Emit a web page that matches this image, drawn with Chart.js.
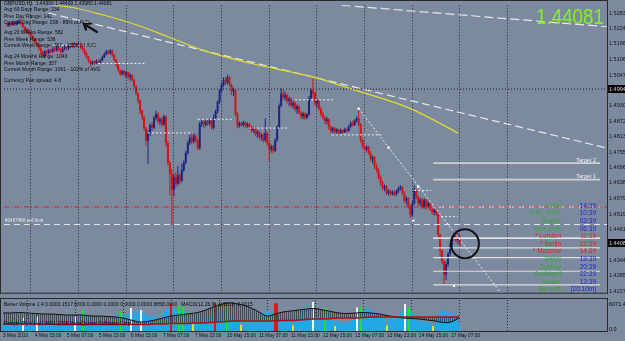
<!DOCTYPE html>
<html><head><meta charset="utf-8">
<script src="https://cdn.jsdelivr.net/npm/chart.js@4.4.0/dist/chart.umd.min.js"></script>
<style>
html,body{margin:0;padding:0;background:#7c8a9f;overflow:hidden}
#wrap{position:relative;width:625px;height:341px;background:#7c8a9f}
canvas{position:absolute;left:0}
</style></head><body>
<div id="wrap">
<canvas id="main" width="625" height="298" style="top:0"></canvas>
<canvas id="ind" width="625" height="43" style="top:298px"></canvas>
</div>
<script>
// ---------------- DATA ----------------
const symbol = 'GBPUSD,H1';
const firstOpen = 1.5242;
const closes = [
1.5236,1.5244,1.5238,1.5246,1.5240,1.5248,1.5252,1.5243,1.5230,1.5214,
1.5220,1.5205,1.5196,1.5184,1.5170,1.5162,1.5149,1.5136,1.5122,1.5138,
1.5131,1.5142,1.5136,1.5148,1.5141,1.5153,1.5145,1.5136,1.5147,1.5155,
1.5149,1.5157,1.5163,1.5156,1.5166,1.5159,1.5167,1.5161,1.5146,1.5131,
1.5118,1.5102,1.5090,1.5098,1.5093,1.5101,1.5096,1.5104,1.5115,1.5127,
1.5138,1.5131,1.5141,1.5124,1.5106,1.5086,1.5066,1.5052,1.5063,1.5049,
1.5058,1.5041,1.5048,1.5030,1.5005,1.4978,1.4950,1.4912,1.4888,1.4846,
1.4798,1.4826,1.4858,1.4848,1.4885,1.4899,1.4872,1.4880,1.4860,1.4890,
1.4790,1.4715,1.4672,1.4612,1.4660,1.4635,1.4668,1.4645,1.4688,1.4716,
1.4752,1.4790,1.4810,1.4795,1.4818,1.4800,1.4770,1.4862,1.4870,1.4858,
1.4872,1.4864,1.4875,1.4848,1.4885,1.4910,1.4945,1.4988,1.5010,1.5030,
1.5018,1.5040,1.5010,1.4985,1.4990,1.4900,1.4855,1.4866,1.4858,1.4868,
1.4854,1.4862,1.4850,1.4838,1.4846,1.4825,1.4832,1.4812,1.4820,1.4800,
1.4828,1.4790,1.4765,1.4776,1.4760,1.4800,1.4850,1.4930,1.4978,1.4962,
1.4972,1.4950,1.4958,1.4932,1.4942,1.4918,1.4928,1.4905,1.4890,1.4902,
1.4886,1.4898,1.4960,1.4990,1.4980,1.4940,1.4950,1.4920,1.4900,1.4886,
1.4872,1.4880,1.4850,1.4836,1.4846,1.4832,1.4840,1.4828,1.4838,1.4830,
1.4842,1.4836,1.4852,1.4866,1.4858,1.4874,1.4884,1.4860,1.4800,1.4775,
1.4766,1.4774,1.4752,1.4728,1.4736,1.4700,1.4688,1.4660,1.4640,1.4618,
1.4626,1.4600,1.4608,1.4596,1.4604,1.4594,1.4606,1.4616,1.4622,1.4600,
1.4570,1.4580,1.4550,1.4515,1.4560,1.4610,1.4585,1.4560,1.4575,1.4545,
1.4572,1.4550,1.4560,1.4538,1.4528,1.4534,1.4520,1.4440,1.4380,1.4340,
1.4290,1.4330,1.4368,1.4400,1.4425,1.4438,1.4420,1.4430,1.44081];
const highs = [
1.5248,1.5250,1.5249,1.5254,1.5252,1.5256,1.5260,1.5262,1.5247,1.5233,
1.5226,1.5224,1.5210,1.5201,1.5189,1.5176,1.5166,1.5153,1.5140,1.5142,
1.5145,1.5148,1.5147,1.5155,1.5158,1.5160,1.5158,1.5150,1.5154,1.5161,
1.5159,1.5164,1.5168,1.5170,1.5172,1.5171,1.5174,1.5172,1.5165,1.5150,
1.5136,1.5121,1.5107,1.5103,1.5104,1.5108,1.5106,1.5110,1.5121,1.5133,
1.5145,1.5144,1.5147,1.5145,1.5128,1.5110,1.5090,1.5070,1.5068,1.5066,
1.5063,1.5061,1.5055,1.5052,1.5034,1.5009,1.4982,1.4955,1.4916,1.4893,
1.4851,1.4838,1.4866,1.4870,1.4893,1.4913,1.4905,1.4888,1.4889,1.4897,
1.4893,1.4798,1.4722,1.4690,1.4672,1.4680,1.4702,1.4676,1.4712,1.4724,
1.4760,1.4799,1.4820,1.4826,1.4828,1.4823,1.4806,1.4870,1.4878,1.4876,
1.4880,1.4878,1.4882,1.4880,1.4898,1.4916,1.4952,1.4995,1.5020,1.5038,
1.5040,1.5050,1.5046,1.5016,1.5000,1.4995,1.4906,1.4872,1.4870,1.4874,
1.4872,1.4868,1.4866,1.4856,1.4852,1.4850,1.4840,1.4836,1.4828,1.4826,
1.4883,1.4834,1.4796,1.4784,1.4782,1.4808,1.4858,1.4940,1.4998,1.4990,
1.4985,1.4978,1.4966,1.4962,1.4950,1.4948,1.4936,1.4932,1.4910,1.4908,
1.4906,1.4904,1.4968,1.4998,1.5035,1.4986,1.4958,1.4954,1.4926,1.4908,
1.4892,1.4890,1.4884,1.4856,1.4852,1.4850,1.4846,1.4844,1.4845,1.4842,
1.4848,1.4846,1.4858,1.4872,1.4875,1.4880,1.4892,1.4920,1.4866,1.4806,
1.4782,1.4780,1.4778,1.4758,1.4742,1.4740,1.4712,1.4694,1.4668,1.4646,
1.4632,1.4630,1.4614,1.4612,1.4610,1.4608,1.4612,1.4624,1.4630,1.4626,
1.4606,1.4588,1.4584,1.4556,1.4568,1.4628,1.4614,1.4590,1.4582,1.4580,
1.4580,1.4578,1.4570,1.4564,1.4544,1.4540,1.4538,1.4526,1.4446,1.4386,
1.4346,1.4340,1.4376,1.4410,1.4434,1.4452,1.4458,1.4446,1.4440];
const lows = [
1.5230,1.5231,1.5232,1.5235,1.5234,1.5237,1.5243,1.5238,1.5225,1.5208,
1.5206,1.5199,1.5188,1.5178,1.5163,1.5155,1.5142,1.5128,1.5115,1.5117,
1.5124,1.5126,1.5129,1.5132,1.5134,1.5137,1.5138,1.5130,1.5131,1.5142,
1.5140,1.5143,1.5150,1.5150,1.5151,1.5153,1.5152,1.5148,1.5140,1.5124,
1.5110,1.5095,1.5081,1.5086,1.5087,1.5089,1.5090,1.5092,1.5100,1.5112,
1.5123,1.5125,1.5126,1.5118,1.5099,1.5078,1.5058,1.5045,1.5047,1.5041,
1.5035,1.5032,1.5026,1.5022,1.4998,1.4970,1.4940,1.4900,1.4875,1.4835,
1.4780,1.4710,1.4815,1.4835,1.4842,1.4876,1.4864,1.4858,1.4850,1.4855,
1.4776,1.4700,1.4592,1.4480,1.4588,1.4620,1.4628,1.4632,1.4640,1.4680,
1.4708,1.4745,1.4782,1.4787,1.4788,1.4790,1.4762,1.4765,1.4850,1.4848,
1.4851,1.4855,1.4856,1.4840,1.4842,1.4878,1.4902,1.4938,1.4980,1.5002,
1.5010,1.5012,1.5002,1.4972,1.4968,1.4890,1.4845,1.4848,1.4850,1.4852,
1.4846,1.4848,1.4842,1.4830,1.4828,1.4816,1.4810,1.4804,1.4798,1.4792,
1.4795,1.4780,1.4721,1.4754,1.4750,1.4756,1.4795,1.4845,1.4925,1.4955,
1.4950,1.4940,1.4930,1.4924,1.4920,1.4910,1.4900,1.4896,1.4882,1.4880,
1.4878,1.4880,1.4892,1.4950,1.4962,1.4930,1.4925,1.4912,1.4890,1.4878,
1.4862,1.4860,1.4840,1.4828,1.4826,1.4824,1.4822,1.4820,1.4824,1.4826,
1.4828,1.4830,1.4832,1.4848,1.4852,1.4855,1.4868,1.4852,1.4790,1.4766,
1.4758,1.4756,1.4745,1.4720,1.4712,1.4692,1.4678,1.4652,1.4628,1.4610,
1.4606,1.4592,1.4590,1.4588,1.4590,1.4587,1.4590,1.4600,1.4610,1.4592,
1.4562,1.4556,1.4540,1.4506,1.4510,1.4555,1.4576,1.4552,1.4548,1.4538,
1.4540,1.4535,1.4542,1.4530,1.4518,1.4515,1.4512,1.4430,1.4360,1.4330,
1.4254,1.4268,1.4320,1.4360,1.4394,1.4418,1.4412,1.4404,1.4398];
const volumes = [
1500,1300,1800,1600,1200,1900,1700,1400,2000,1800,
2600,2200,2000,2400,1900,2300,2100,2800,2400,2000,
2200,1800,2000,1600,1400,1700,1300,1500,1200,1600,
1800,1400,2000,2300,2600,2900,2900,3100,2800,3300,
4100,3500,3000,2700,2200,1900,2100,1600,1800,1400,
2000,1700,2300,2100,1900,2400,2600,2900,3200,3800,
3100,3400,2800,3500,4500,3600,3900,3300,4000,4100,
3700,3400,3000,2800,3200,2600,3000,2400,2900,2700,
3300,3900,4200,4600,5300,4400,4700,4000,5100,4300,
4700,3800,3100,2600,2900,1300,2200,2700,2000,2400,
1900,2300,2600,3000,3400,3800,5500,4200,4600,4100,
3900,4300,5100,3800,3200,2800,2400,2000,2300,1200,
1800,2100,1700,2000,2300,1900,2200,2600,3000,3400,
3800,3500,4100,3700,3300,3900,5500,5400,3100,2600,
2300,2700,2100,2500,2000,1100,2400,2800,3300,3700,
4000,4400,3800,4200,4600,5700,3000,2400,2100,2600,
3200,4700,3600,3900,3100,2700,1000,2200,1800,1500,
1700,1400,1900,1600,2000,2300,2600,4600,3700,4700,
3900,4200,4500,4300,4000,3700,3400,3000,3300,2700,
2900,2500,1100,2800,2300,2600,2100,2900,3200,3600,
4100,5300,4300,4700,3900,3400,2800,2300,1800,2000,
1600,1900,1400,1700,1300,1000,1500,2400,3300,3800,
4200,3600,3900,3300,3700,3100,3500,2900,1517];
const whiteVol = [10,17,36,64,69,155,177,201];
const greenVol = [40,59,88,90,112,161,179,203];
const redVol = [84,106,136,137];
const yellowVol = [95,119,145,166,192,215];
const macdStep = 4;
const macdMain = [
-0.00019,-0.00019,-0.00003,-0.00019,-0.00035,-0.00052,-0.00052,-0.00068,-0.00084,-0.00084,
-0.00084,-0.00116,-0.00116,-0.00132,-0.00148,-0.00181,-0.00245,-0.00310,-0.00294,-0.00245,
-0.00181,-0.00116,-0.00084,-0.00052,-0.00019,0.00045,0.00142,0.00239,0.00303,0.00287,
0.00239,0.00142,0.00013,-0.00116,-0.00052,0.00013,0.00045,0.00077,0.00110,0.00126,
0.00077,0.00029,-0.00019,-0.00035,-0.00019,-0.00003,-0.00019,-0.00052,-0.00100,-0.00148,
-0.00181,-0.00197,-0.00213,-0.00245,-0.00277,-0.00326,-0.00310,-0.00181];
const macdSignal = [
-0.00374,-0.00374,-0.00374,-0.00374,-0.00374,-0.00374,-0.00374,-0.00390,-0.00390,-0.00390,
-0.00390,-0.00390,-0.00390,-0.00390,-0.00390,-0.00390,-0.00390,-0.00390,-0.00390,-0.00374,
-0.00374,-0.00358,-0.00358,-0.00358,-0.00342,-0.00342,-0.00326,-0.00310,-0.00294,-0.00277,
-0.00277,-0.00277,-0.00277,-0.00277,-0.00277,-0.00261,-0.00261,-0.00245,-0.00229,-0.00213,
-0.00213,-0.00197,-0.00181,-0.00181,-0.00181,-0.00165,-0.00148,-0.00148,-0.00148,-0.00148,
-0.00148,-0.00148,-0.00148,-0.00148,-0.00148,-0.00148,-0.00148,-0.00148];
const volMax = 6071.4;
const priceTicks = [1.52830,1.52240,1.51660,1.51060,1.50475,1.49890,1.49305,1.48720,1.48135,1.47550,
1.46965,1.46380,1.45795,1.45195,1.44610,1.44025,1.43440,1.42855,1.42270];
const timeLabels = ['3 May 2010','4 May 15:00','5 May 07:00','5 May 23:00','6 May 15:00','7 May 07:00',
'7 May 23:00','10 May 15:00','11 May 07:00','11 May 23:00','12 May 15:00','13 May 07:00','13 May 23:00',
'14 May 15:00','17 May 07:00'];
const timeLabelIdx = [0,16,32,48,64,80,96,112,128,144,160,176,192,208,224];
const gridIdx = [24,48,72,96,120,144,168,192,216,240];

// drawn objects (bar index, price)
const trendLong = [[21,1.5283],[301,1.4772]];
const trendTop = [[168.5,1.53126],[302,1.52312]];
const maLine = [[12.5,1.5320],[32,1.53052],[48.5,1.52756],[65,1.52386],[82,1.51905],[98.5,1.51424],
[123.5,1.50906],[155,1.50388],[173.5,1.49944],[202,1.49241],[227,1.48279]];
const slopeLine = [[177,1.49204],[248.5,1.42211]];
const anchorDots = [[177,1.49204],[192,1.47724],[207,1.46244],[204.5,1.44949],[225,1.42470]];
const dayLevels = [[23.5,45,1.51609],[46,70,1.50917],[71,93.5,1.48279],[96,113.5,1.48797],[122,141,1.48464],
[145,165,1.49537],[163.5,188.5,1.48205],[205,213.5,1.46096],[218.5,227,1.45097]];
const hLine = 1.49944, redLevel = 1.45467, sellLimit = 1.44801;
const targets = [['Target 2',1.47132],['Target 1',1.46503]];
const panelLevels = [1.45467,1.44283,1.43913,1.43543,1.43025,1.42507];
const panelX = [214.5,298.5], fullX = [-1.5,302];
const infoLines = ['Avg 60 Days Range: 234','Prev Day Range: 142','Current Day Range: 208 - 89% of AVG',
'Avg 20 Weeks Range: 582','Prev Week Range: 536','Current Week Range: 787 - 135% of AVG',
'Avg 24 Months Range: 1043','Prev Month Range: 357','Current Month Range: 1061 - 102% of AVG',
'Currency Pair spread: 4.8'];
const sessionNames = ['Local','UTC_GMT','Seattle','New York','* London','* Berlin','* Moscow','Tokyo','Sydney','Auckland','Broker','Bar Left'];
const sessionTimes = ['14:39','10:39','03:39','06:39','11:39','12:39','14:39','19:39','20:39','22:39','13:39','[20:10m]'];
const sessionOpen = [0,0,0,0,1,1,1,0,0,0,0,0];

// ---------------- STYLE ----------------
const FONT = 'Liberation Sans';
const BULL = '#1c2680', BEAR = '#cf1515', GRID = '#262626';
const n = closes.length;
const opens = closes.map((c,i)=> i===0 ? firstOpen : closes[i-1]);
const cCol = closes.map((c,i)=> c>=opens[i] ? BULL : BEAR);
const pts = a => a.map(p=>({x:p[0],y:p[1]}));
function seg(points,color,width,dash,extra){
  return Object.assign({type:'line',data:pts(points),borderColor:color,borderWidth:width,borderDash:dash||[],
    pointRadius:0,fill:false,tension:0,order:2},extra||{});
}
const ds = [];
ds.push({type:'bar',data:closes.map((c,i)=>({x:i,y:[lows[i],highs[i]]})),backgroundColor:cCol,barThickness:1,
  grouped:false,inflateAmount:0,order:20});
ds.push({type:'bar',data:closes.map((c,i)=>({x:i,y:[opens[i],c]})),backgroundColor:cCol,barThickness:2,
  minBarLength:1,grouped:false,inflateAmount:0,order:19});
ds.push(seg([[fullX[0],hLine],[fullX[1],hLine]],'#1c1c1c',1,[1,2]));
ds.push(seg([[fullX[0],redLevel],[fullX[1],redLevel]],'#d42222',1,[5,2,1,2]));
ds.push(seg([[fullX[0],sellLimit],[fullX[1],sellLimit]],'#e4e4e4',1.2,[6,4]));
ds.push(seg([[fullX[0],sellLimit],[fullX[1],sellLimit]],'#3fb03f',1.2,[3,7],{borderDashOffset:7}));
ds.push(seg(maLine,'#e2dc2a',1.2,[],{tension:0.4,cubicInterpolationMode:'monotone'}));
ds.push(seg(trendLong,'#e8e8e8',1.2,[8,4]));
ds.push(seg(trendTop,'#e8e8e8',1.2,[9,4]));
ds.push(seg(slopeLine,'#eeeeee',1,[2,2]));
dayLevels.forEach(l=>ds.push(seg([[l[0],l[2]],[l[1],l[2]]],'#f0f0f0',1,[2,2])));
targets.forEach(t=>ds.push(seg([[panelX[0],t[1]],[panelX[1],t[1]]],'#cfcfcf',1.8,[])));
panelLevels.forEach((p,k)=>ds.push(seg([[panelX[0],p],[panelX[1],p]],'#dedede',k===1?1.8:1.1,[])));
ds.push({type:'line',data:pts(anchorDots),showLine:false,pointRadius:1.6,pointStyle:'rect',
  pointBackgroundColor:'#ffffff',pointBorderWidth:0,order:1});

const overlay1 = {
  id:'overlay1',
  afterDatasetsDraw(chart){
    const {ctx, chartArea:a, scales:{x,y}} = chart;
    ctx.save();
    ctx.strokeStyle='#2a2a2a'; ctx.lineWidth=1;
    ctx.strokeRect(0.5,0.5,a.right,a.bottom);
    ctx.fillStyle='#0a0a0a'; ctx.textBaseline='middle'; ctx.textAlign='left';
    ctx.font='5px "'+FONT+'"';
    const L=n-1;
    ctx.fillText(symbol+'  '+opens[L].toFixed(5)+' '+highs[L].toFixed(5)+' '+lows[L].toFixed(5)+' '+closes[L].toFixed(5),4,3.5);
    const iy=[10,16.5,23,33,39.5,46,57,63.5,70,81];
    infoLines.forEach((t,k)=>ctx.fillText(t,4,iy[k]));
    ctx.strokeStyle='#111'; ctx.lineWidth=2.2; ctx.lineCap='round';
    ctx.beginPath(); ctx.moveTo(97,32); ctx.lineTo(84,24); ctx.moveTo(84,24); ctx.lineTo(91,23.5);
    ctx.moveTo(84,24); ctx.lineTo(86,29.5); ctx.stroke();
    ctx.lineWidth=2;
    ctx.beginPath(); ctx.ellipse(x.getPixelForValue(230.5),y.getPixelForValue(1.4407),14,14.5,0,0,Math.PI*2); ctx.stroke();
    ctx.font='4.6px "'+FONT+'"'; ctx.fillStyle='#e8e8e8';
    ctx.fillText('#2467466 sell limit',5,y.getPixelForValue(sellLimit)-3.5);
    ctx.font='5.5px "'+FONT+'"'; ctx.textAlign='right'; ctx.fillStyle='#f2f2f2';
    targets.forEach(t=>ctx.fillText(t[0],596,y.getPixelForValue(t[1])-3));
    ctx.font='6.5px "'+FONT+'"';
    sessionNames.forEach((s,k)=>{
      const yy=206+k*7.6;
      ctx.fillStyle=sessionOpen[k]?'#e62020':'#36a636'; ctx.fillText(s,561,yy);
      ctx.fillStyle=sessionOpen[k]?'#e62020':'#2222d6'; ctx.fillText(sessionTimes[k],596,yy);
    });
    ctx.textAlign='left'; ctx.font='5.5px "'+FONT+'"';
    [hLine, closes[L]].forEach(p=>{
      const py=Math.round(y.getPixelForValue(p));
      ctx.fillStyle='#050505'; ctx.fillRect(a.right+1,py-4,625-a.right,8);
      ctx.fillStyle='#cfcfcf'; ctx.fillText(p.toFixed(5),a.right+2,py);
    });
    ctx.font='22px "'+FONT+'"'; ctx.textAlign='right'; ctx.textBaseline='alphabetic';
    ctx.fillStyle='#84f21c'; ctx.fillText(closes[L].toFixed(5),604,24,68);
    ctx.restore();
  }
};

new Chart(document.getElementById('main'),{
  type:'bar', data:{datasets:ds},
  options:{responsive:false,animation:false,devicePixelRatio:1,events:[],
    layout:{padding:{top:2,bottom:1,left:0,right:0}},
    plugins:{legend:{display:false},tooltip:{enabled:false}},
    scales:{
      x:{type:'linear',min:fullX[0],max:fullX[1],offset:false,
        grid:{display:true,color:GRID,lineWidth:1,drawTicks:false},border:{display:false,dash:[1,2]},
        ticks:{display:false},
        afterBuildTicks:s=>{s.ticks=gridIdx.map(v=>({value:v}));},afterFit:s=>{s.height=0;}},
      y:{type:'linear',position:'right',min:1.42211,max:1.53126,
        grid:{display:false,drawTicks:false},border:{display:false},
        ticks:{color:'#151515',font:{size:5.5,family:FONT},padding:2,autoSkip:false,callback:v=>v.toFixed(5)},
        afterBuildTicks:s=>{s.ticks=priceTicks.map(v=>({value:v}));},afterFit:s=>{s.width=18;}}
    }},
  plugins:[overlay1]
});

// ---------------- INDICATOR ----------------
const indCanvas=document.getElementById('ind');
const pc=document.createElement('canvas'); pc.width=2; pc.height=1;
const pcx=pc.getContext('2d'); pcx.fillStyle='rgba(55,55,55,0.8)'; pcx.fillRect(0,0,1,1);
const stripe=indCanvas.getContext('2d').createPattern(pc,'repeat');
const volCol = volumes.map((v,i)=> whiteVol.includes(i)?'#f4f4f4': greenVol.includes(i)?'#22e022':
  redVol.includes(i)?'#e01818': yellowVol.includes(i)?'#e6e020':'#22a8e2');
const macdPts = arr => arr.map((v,k)=>({x:k*macdStep,y:v}));

const overlay2 = {
  id:'overlay2',
  afterDatasetsDraw(chart){
    const {ctx, chartArea:a, scales} = chart;
    ctx.save();
    ctx.strokeStyle='#2a2a2a'; ctx.lineWidth=1;
    ctx.strokeRect(0.5,0.5,a.right,a.bottom);
    ctx.fillStyle='#0a0a0a'; ctx.font='5px "'+FONT+'"'; ctx.textBaseline='middle'; ctx.textAlign='left';
    const L=volumes.length-1;
    ctx.fillText('Better Volume 1.4 0.0000 '+volumes[L].toFixed(4)+' 0.0000 0.0000 0.0000 0.0000 8858.0000   MACD(12,26,9) '+
      macdMain[macdMain.length-1].toFixed(4)+' '+macdSignal[macdSignal.length-1].toFixed(4),4,7);
    ctx.fillText('Rubyfx (P) 4.1 (c) 2001-2009 MetaQuotes Software Corp.',4,26);
    ctx.font='5.5px "'+FONT+'"';
    ctx.fillText(volMax.toFixed(1),a.right+2,scales.yv.getPixelForValue(volMax)+4);
    ctx.fillText((0).toFixed(1),a.right+2,scales.yv.getPixelForValue(0)-2);
    ctx.restore();
  }
};

new Chart(indCanvas,{
  type:'bar',
  data:{datasets:[
    {type:'line',data:macdPts(macdMain),yAxisID:'ym',borderColor:'#121212',borderWidth:1,pointRadius:0,
      tension:0.35,fill:'+1',backgroundColor:stripe,order:1},
    {type:'line',data:macdPts(macdSignal),yAxisID:'ym',borderColor:'#a81212',borderWidth:1.5,pointRadius:0,
      tension:0.35,fill:false,order:0},
    {type:'bar',data:volumes.map((v,i)=>({x:i,y:v})),yAxisID:'yv',backgroundColor:volCol,barThickness:2,
      grouped:false,inflateAmount:0,order:5}
  ]},
  options:{responsive:false,animation:false,devicePixelRatio:1,events:[],
    layout:{padding:{top:2,bottom:0,left:0,right:0}},
    plugins:{legend:{display:false},tooltip:{enabled:false}},
    scales:{
      x:{type:'linear',position:'bottom',min:fullX[0],max:fullX[1],offset:false,
        grid:{display:false,drawTicks:false},border:{display:false},
        ticks:{align:'start',color:'#101010',font:{size:4.8,family:FONT},padding:2,autoSkip:false,maxRotation:0,
          callback:(v,i)=>timeLabels[i]},
        afterBuildTicks:s=>{s.ticks=timeLabelIdx.map(v=>({value:v}));},afterFit:s=>{s.height=10;}},
      xg:{type:'linear',position:'top',min:fullX[0],max:fullX[1],offset:false,
        grid:{display:true,color:GRID,lineWidth:1,drawTicks:false},border:{display:false,dash:[1,2]},
        ticks:{display:false},
        afterBuildTicks:s=>{s.ticks=gridIdx.map(v=>({value:v}));},afterFit:s=>{s.height=0;}},
      yv:{type:'linear',position:'right',min:0,max:volMax,grid:{display:false},border:{display:false},
        ticks:{display:false},afterFit:s=>{s.width=18;}},
      ym:{type:'linear',position:'right',min:-0.006,max:0.004,display:false}
    }},
  plugins:[overlay2]
});
</script>
</body></html>
